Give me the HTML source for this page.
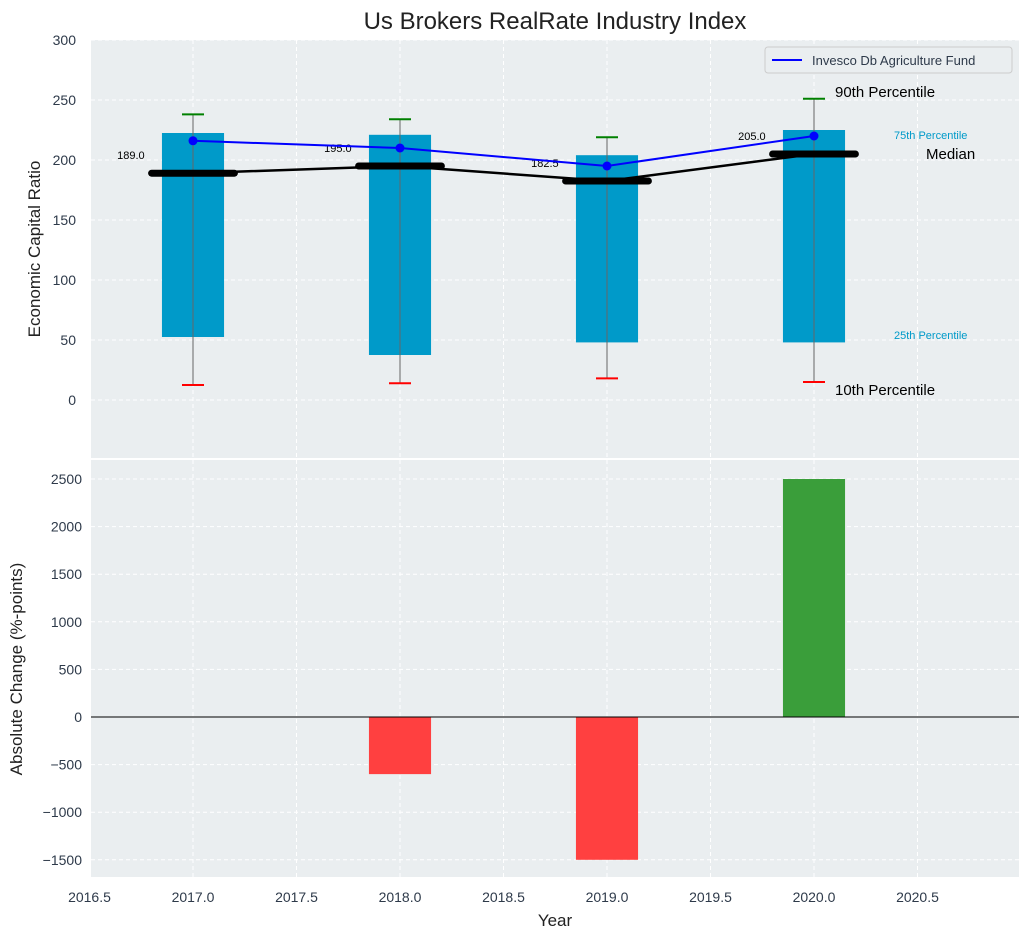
<!DOCTYPE html>
<html><head><meta charset="utf-8"><style>
body{margin:0;background:#fff;font-family:"Liberation Sans","DejaVu Sans",sans-serif}
</style></head><body>
<svg id="c" width="1029" height="940" xmlns="http://www.w3.org/2000/svg" font-family="Liberation Sans, DejaVu Sans, sans-serif"></svg>
<script>
const years=[2017,2018,2019,2020];
const p90=[238,234,219,251];
const p75=[222.5,221,204,225];
const medians=[189,195,182.5,205];
const p25=[52.5,37.5,48,48];
const p10=[12.5,14,18,15];
const fund=[216,210,195,220];
const changes=[0,-600,-1500,2500];
const xTicks=[2016.5,2017,2017.5,2018,2018.5,2019,2019.5,2020,2020.5];
const topTicks=[0,50,100,150,200,250,300];
const botTicks=[-1500,-1000,-500,0,500,1000,1500,2000,2500];

const svg=document.getElementById('c');const NS='http://www.w3.org/2000/svg';
function el(t,a,p){const e=document.createElementNS(NS,t);for(const k in a)e.setAttribute(k,a[k]);(p||svg).appendChild(e);return e;}
const L=91,R=1019;
const X=v=>193+(v-2017)*207;
const T0=40,T1=458,Yt=v=>400-v*1.2;
const B0=460,B1=877,Yb=v=>717-v*(238/2500);
let bg=el('rect',{x:L,y:T0,width:R-L,height:T1-T0,fill:'#eaeef0'});

bg=el('rect',{x:L,y:B0,width:R-L,height:B1-B0,fill:'#eaeef0'});

xTicks.forEach(t=>{const x=X(t);
 el('line',{x1:x,x2:x,y1:T0,y2:T1,stroke:'#fff','stroke-dasharray':'4,3'});
 el('line',{x1:x,x2:x,y1:B0,y2:B1,stroke:'#fff','stroke-dasharray':'4,3'});
 const tx=el('text',{x:x,y:902,'text-anchor':'middle','font-size':14,fill:'#2e3a4a'});tx.textContent=t.toFixed(1);
 
});
topTicks.forEach(t=>{const y=Yt(t);
 el('line',{x1:L,x2:R,y1:y,y2:y,stroke:'#fff','stroke-dasharray':'4,3'});
 const tx=el('text',{x:76,y:y+5,'text-anchor':'end','font-size':14,fill:'#2e3a4a'});tx.textContent=t;
 
});
botTicks.forEach(t=>{const y=Yb(t);
 el('line',{x1:L,x2:R,y1:y,y2:y,stroke:'#fff','stroke-dasharray':'4,3'});
 const tx=el('text',{x:82,y:y+5,'text-anchor':'end','font-size':14,fill:'#2e3a4a'});tx.textContent=t<0?'\u2212'+(-t):t;
 
});
const hw=0.15;
years.forEach((yr,i)=>{
 const r=el('rect',{x:X(yr-hw),y:Yt(p75[i]),width:X(yr+hw)-X(yr-hw),height:Yt(p25[i])-Yt(p75[i]),fill:'#009ac9'});
 
 const w=el('line',{x1:X(yr),x2:X(yr),y1:Yt(p90[i]),y2:Yt(p10[i]),stroke:'#666','stroke-width':1});
 
 const c1=el('line',{x1:X(yr)-11,x2:X(yr)+11,y1:Yt(p90[i]),y2:Yt(p90[i]),stroke:'green','stroke-width':2});
 
 const c2=el('line',{x1:X(yr)-11,x2:X(yr)+11,y1:Yt(p10[i]),y2:Yt(p10[i]),stroke:'red','stroke-width':2});
 
});
let ml=el('polyline',{points:years.map((y,i)=>X(y)+','+Yt(medians[i])).join(' '),fill:'none',stroke:'#000','stroke-width':2.5});

years.forEach((yr,i)=>{
 const m=el('line',{x1:X(yr-0.2),x2:X(yr+0.2),y1:Yt(medians[i]),y2:Yt(medians[i]),stroke:'#000','stroke-width':7,'stroke-linecap':'round'});
 
 const t=el('text',{x:X(yr-0.3),y:Yt(medians[i])-14,'text-anchor':'middle','font-size':11,fill:'#000'});t.textContent=medians[i].toFixed(1);
 
});
let fl=el('polyline',{points:years.map((y,i)=>X(y)+','+Yt(fund[i])).join(' '),fill:'none',stroke:'#0000ff','stroke-width':2});

years.forEach((yr,i)=>{const c=el('circle',{cx:X(yr),cy:Yt(fund[i]),r:4.5,fill:'#0000ff'});
 });
[['90th Percentile',835,97,15,'#000'],['10th Percentile',835,395,15,'#000'],
 ['75th Percentile',894,139,11,'#009ac9'],['25th Percentile',894,339,11,'#009ac9'],['Median',926,159,15,'#000']].forEach(a=>{
 const t=el('text',{x:a[1],y:a[2],'font-size':a[3],fill:a[4]});t.textContent=a[0];
 });
const lg=el('g',{});
el('rect',{x:765,y:47,width:247,height:26,fill:'#eaeef0',stroke:'#ccc',rx:3},lg);
el('line',{x1:772,x2:802,y1:60,y2:60,stroke:'#0000ff','stroke-width':2},lg);
const lt=el('text',{x:812,y:65,'font-size':13,fill:'#2e3a4a'},lg);lt.textContent='Invesco Db Agriculture Fund';
years.forEach((yr,i)=>{const v=changes[i];if(!v)return;
 const y0=Yb(Math.max(v,0)),y1=Yb(Math.min(v,0));
 const r=el('rect',{x:X(yr-hw),y:y0,width:X(yr+hw)-X(yr-hw),height:y1-y0,fill:v<0?'#ff4040':'#3a9e3a'});
 });
el('line',{x1:L,x2:R,y1:Yb(0),y2:Yb(0),stroke:'#000','stroke-width':1});
let t=el('text',{x:555,y:29,'text-anchor':'middle','font-size':24,fill:'#222'});t.textContent='Us Brokers RealRate Industry Index';

t=el('text',{x:555,y:926,'text-anchor':'middle','font-size':17,fill:'#222'});t.textContent='Year';

t=el('text',{x:40,y:249,'text-anchor':'middle','font-size':17,fill:'#222',transform:'rotate(-90 40 249)'});t.textContent='Economic Capital Ratio';

t=el('text',{x:22,y:669,'text-anchor':'middle','font-size':17,fill:'#222',transform:'rotate(-90 22 669)'});t.textContent='Absolute Change (%-points)';

</script>
</body></html>
